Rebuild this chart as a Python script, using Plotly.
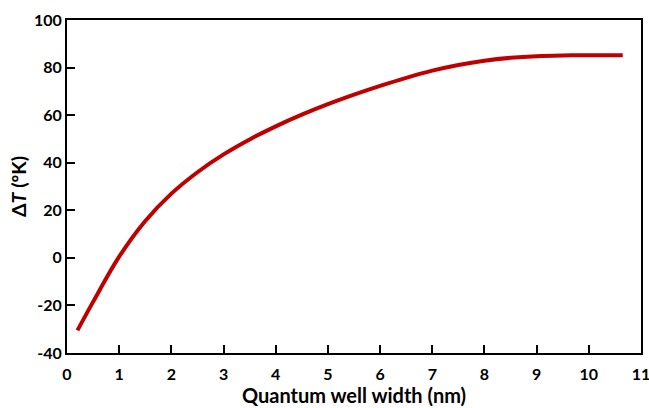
import plotly.graph_objects as go

well_width_nm = [0.2, 0.5, 1.0, 1.5, 2.0, 2.5, 3.0, 3.5, 4.0, 4.5, 5.0, 5.5, 6.0, 6.5, 7.0, 7.5, 8.0, 8.5, 9.0, 9.5, 10.0, 10.65]
delta_T = [-30.5, -18.5, 0.5, 15.5, 27, 36, 43.5, 49.8, 55.3, 60.2, 64.6, 68.6, 72.3, 75.7, 78.7, 81.1, 82.9, 84.1, 84.8, 85.1, 85.2, 85.2]

x_ticks = list(range(0, 12))
y_ticks = list(range(-40, 101, 20))
y_tick_text = [str(v).replace("\u2212", "-") for v in y_ticks]

fig = go.Figure()
fig.add_trace(go.Scatter(
    x=well_width_nm, y=delta_T, mode="lines",
    line=dict(color="#C00000", width=4, shape="spline", smoothing=1.0),
    showlegend=False,
))

font_family = "Lato, 'Liberation Sans', sans-serif"
axis_common = dict(
    showline=True, linecolor="black", linewidth=2, mirror=True,
    ticks="inside", ticklen=8, tickwidth=2, tickcolor="black",
    showgrid=False, zeroline=False, automargin=False,
    ticklabeloverflow="allow",
    tickfont=dict(family=font_family, size=16, color="black", weight="bold"),
)

fig.update_layout(
    width=649, height=408,
    margin=dict(l=67, r=8, t=20, b=55),
    paper_bgcolor="white", plot_bgcolor="white",
    xaxis=dict(range=[0, 11], tickvals=x_ticks, ticklabelstandoff=6,
               title=dict(text="<b>Quantum well width (nm)</b>", standoff=4,
                          font=dict(family=font_family, size=20, color="black")),
               **axis_common),
    yaxis=dict(range=[-40, 100], tickvals=y_ticks, ticktext=y_tick_text,
               title=dict(text="<b>Δ<i>T</i> (ºK)</b>", standoff=2,
                          font=dict(family=font_family, size=19.5, color="black")),
               **axis_common),
)

fig.write_html("out.html")
